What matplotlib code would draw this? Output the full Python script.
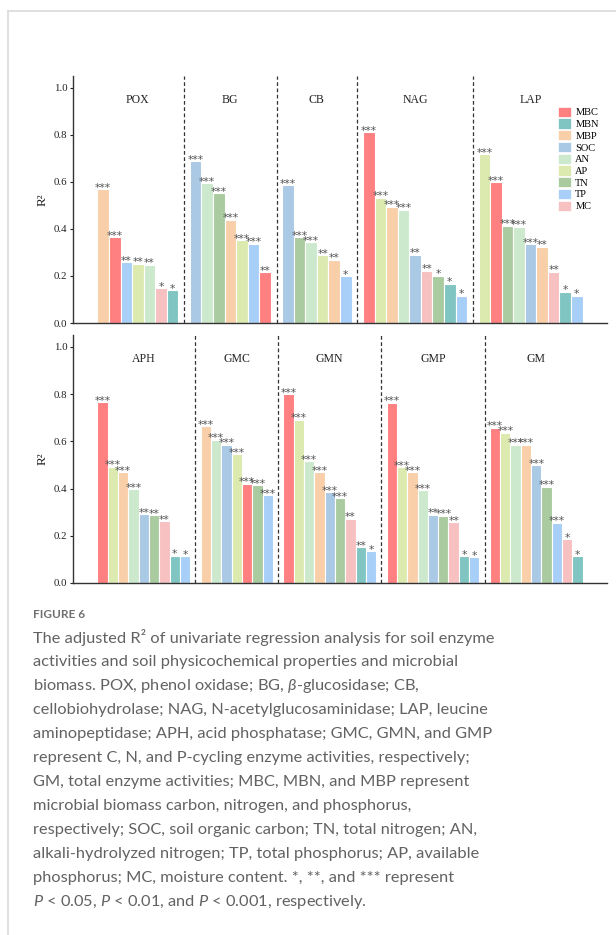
import matplotlib.pyplot as plt
from matplotlib.patches import Patch
from matplotlib.lines import Line2D

plt.rcParams['font.family'] = ['Liberation Serif', 'DejaVu Serif']
plt.rcParams['mathtext.fontset'] = 'custom'
plt.rcParams['mathtext.rm'] = 'Lato'
plt.rcParams['mathtext.it'] = 'Lato:italic'

# explanatory variables and their colours (legend order)
variables = ['MBC', 'MBN', 'MBP', 'SOC', 'AN', 'AP', 'TN', 'TP', 'MC']
var_colors = ['#FF8080', '#80C5C1', '#F8CFA9', '#A9C9E5', '#CCE9CD',
              '#DCEAAF', '#AACBA0', '#A7CFF7', '#F7C0C1']
cmap = dict(zip(variables, var_colors))

# top row
pox_vars = ['MBP', 'MBC', 'TP', 'AP', 'AN', 'MC', 'MBN']
pox_r2 = [0.569, 0.365, 0.259, 0.253, 0.248, 0.149, 0.141]
pox_sig = ['***', '***', '**', '**', '**', '*', '*']

bg_vars = ['SOC', 'AN', 'TN', 'MBP', 'AP', 'TP', 'MBC']
bg_r2 = [0.689, 0.595, 0.553, 0.440, 0.351, 0.337, 0.216]
bg_sig = ['***', '***', '***', '***', '***', '***', '**']

cb_vars = ['SOC', 'TN', 'AN', 'AP', 'MBP', 'TP']
cb_r2 = [0.587, 0.366, 0.344, 0.289, 0.269, 0.198]
cb_sig = ['***', '***', '***', '**', '**', '*']

nag_vars = ['MBC', 'AP', 'MBP', 'AN', 'SOC', 'MC', 'TN', 'MBN', 'TP']
nag_r2 = [0.810, 0.533, 0.494, 0.482, 0.291, 0.222, 0.201, 0.167, 0.116]
nag_sig = ['***', '***', '***', '***', '**', '**', '*', '*', '*']

lap_vars = ['AP', 'MBC', 'TN', 'AN', 'SOC', 'MBP', 'MC', 'MBN', 'TP']
lap_r2 = [0.717, 0.598, 0.414, 0.409, 0.335, 0.324, 0.218, 0.133, 0.116]
lap_sig = ['***', '***', '***', '***', '***', '**', '**', '*', '*']

# bottom row
aph_vars = ['MBC', 'AP', 'MBP', 'AN', 'SOC', 'TN', 'MC', 'MBN', 'TP']
aph_r2 = [0.766, 0.493, 0.470, 0.396, 0.292, 0.287, 0.261, 0.115, 0.113]
aph_sig = ['***', '***', '***', '***', '**', '**', '**', '*', '*']

gmc_vars = ['MBP', 'AN', 'SOC', 'AP', 'MBC', 'TN', 'TP']
gmc_r2 = [0.665, 0.607, 0.585, 0.545, 0.421, 0.413, 0.373]
gmc_sig = ['***', '***', '***', '***', '***', '***', '***']

gmn_vars = ['MBC', 'AP', 'AN', 'MBP', 'SOC', 'TN', 'MC', 'MBN', 'TP']
gmn_r2 = [0.799, 0.692, 0.517, 0.470, 0.385, 0.359, 0.272, 0.151, 0.134]
gmn_sig = ['***', '***', '***', '***', '***', '***', '**', '**', '*']

gmp_vars = ['MBC', 'AP', 'MBP', 'AN', 'SOC', 'TN', 'MC', 'MBN', 'TP']
gmp_r2 = [0.763, 0.490, 0.469, 0.393, 0.289, 0.285, 0.258, 0.113, 0.110]
gmp_sig = ['***', '***', '***', '***', '**', '***', '**', '*', '*']

gm_vars = ['MBC', 'AP', 'AN', 'MBP', 'SOC', 'TN', 'TP', 'MC', 'MBN']
gm_r2 = [0.658, 0.637, 0.586, 0.586, 0.500, 0.408, 0.255, 0.185, 0.113]
gm_sig = ['***', '***', '***', '***', '***', '***', '***', '*', '*']

top_row = [('POX', pox_vars, pox_r2, pox_sig), ('BG', bg_vars, bg_r2, bg_sig),
           ('CB', cb_vars, cb_r2, cb_sig), ('NAG', nag_vars, nag_r2, nag_sig),
           ('LAP', lap_vars, lap_r2, lap_sig)]
bottom_row = [('APH', aph_vars, aph_r2, aph_sig), ('GMC', gmc_vars, gmc_r2, gmc_sig),
              ('GMN', gmn_vars, gmn_r2, gmn_sig), ('GMP', gmp_vars, gmp_r2, gmp_sig),
              ('GM', gm_vars, gm_r2, gm_sig)]

fig = plt.figure(figsize=(6.16, 9.35), dpi=100)


def draw_row(ax, groups, pad):
    x = 0
    for gi, (name, vars_, vals, sig) in enumerate(groups):
        xs = [x + i + 0.5 for i in range(len(vals))]
        ax.bar(xs, vals, width=1, color=[cmap[v] for v in vars_],
               edgecolor='white', linewidth=0.8)
        for xi, v, s in zip(xs, vals, sig):
            ax.annotate(s, (xi, v), xytext=(0, -1.2), textcoords='offset points',
                        ha='center', va='baseline', fontsize=7.8,
                        color='#555555', family='DejaVu Sans')
        ax.text(x + len(vals) / 2, 0.95, name, ha='center', va='center',
                fontsize=8.5, color='#222222')
        x += len(vals)
        if gi < len(groups) - 1:
            ax.axvline(x + 0.5, ls=(0, (3, 2)), color='#333333', lw=0.9)
            x += 1
    ax.set_xlim(-pad, x + pad)
    ax.set_ylim(0, 1.05)
    ax.set_yticks([0, 0.2, 0.4, 0.6, 0.8, 1.0])
    ax.set_yticklabels(['0.0', '0.2', '0.4', '0.6', '0.8', '1.0'])
    ax.set_xticks([])
    for s in ['top', 'right']:
        ax.spines[s].set_visible(False)
    for s in ['left', 'bottom']:
        ax.spines[s].set_color('#333333')
        ax.spines[s].set_linewidth(1.0)
    ax.tick_params(axis='y', length=2, pad=2, labelsize=7.8, colors='#222222')
    ax.set_ylabel('R²', fontsize=9.5, labelpad=4, color='#222222')


ax1 = fig.add_axes([0.1185, 0.6545, 0.867, 0.2642])
draw_row(ax1, top_row, 2.12)
ax2 = fig.add_axes([0.1185, 0.3765, 0.867, 0.2652])
draw_row(ax2, bottom_row, 2.35)

handles = [Patch(facecolor=c, edgecolor='white', linewidth=0.5) for c in var_colors]
fig.legend(handles, variables, loc='upper left', bbox_to_anchor=(0.906, 0.886),
           frameon=False, fontsize=7.5, handlelength=1.25, handleheight=1.15,
           labelspacing=0.1, handletextpad=0.4, borderpad=0, borderaxespad=0)

# card border
fig.add_artist(Line2D([8 / 616, 1], [1 - 11 / 935] * 2, color='#dadada', lw=1.2))
fig.add_artist(Line2D([8 / 616] * 2, [0, 1 - 11 / 935], color='#dadada', lw=1.2))

# caption
cap_font = ['Lato', 'DejaVu Sans']
fig.text(33 / 616, 1 - 615 / 935, 'FIGURE 6', fontsize=8.5, color='#707070',
         family=cap_font, weight='bold', va='center')
caption = [
    'The adjusted R² of univariate regression analysis for soil enzyme',
    'activities and soil physicochemical properties and microbial',
    r'biomass. POX, phenol oxidase; BG, $\beta$-glucosidase; CB,',
    'cellobiohydrolase; NAG, N-acetylglucosaminidase; LAP, leucine',
    'aminopeptidase; APH, acid phosphatase; GMC, GMN, and GMP',
    'represent C, N, and P-cycling enzyme activities, respectively;',
    'GM, total enzyme activities; MBC, MBN, and MBP represent',
    'microbial biomass carbon, nitrogen, and phosphorus,',
    'respectively; SOC, soil organic carbon; TN, total nitrogen; AN,',
    'alkali-hydrolyzed nitrogen; TP, total phosphorus; AP, available',
    'phosphorus; MC, moisture content. *, **, and *** represent',
    r'$P$ < 0.05, $P$ < 0.01, and $P$ < 0.001, respectively.',
]
for i, line in enumerate(caption):
    fig.text(33 / 616, 1 - (638 + 24 * i) / 935, line, fontsize=11.8,
             color='#626262', family=cap_font, va='center')

fig.savefig('out.png', dpi=100, facecolor='white')
